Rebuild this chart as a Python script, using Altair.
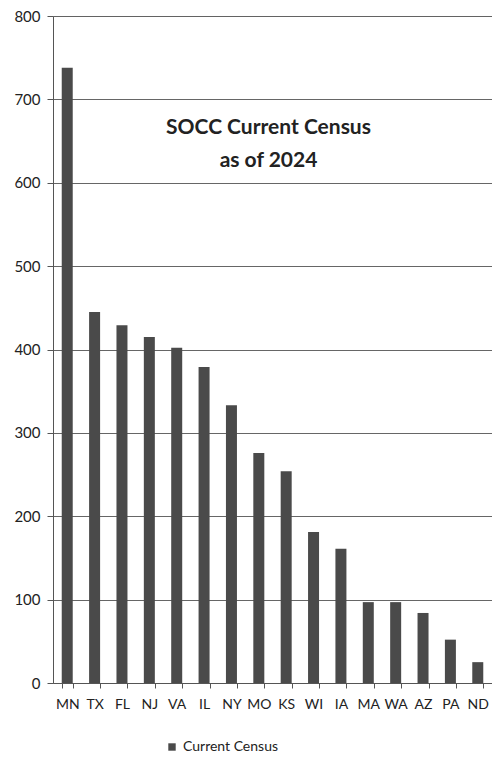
import altair as alt
import pandas as pd

states = ["MN", "TX", "FL", "NJ", "VA", "IL", "NY", "MO", "KS", "WI", "IA", "MA", "WA", "AZ", "PA", "ND"]
census = [738, 445, 429, 415, 402, 379, 333, 276, 254, 181, 161, 97, 97, 84, 52, 25]
series = "Current Census"
title_lines = ["SOCC Current Census", "as of 2024"]

df = pd.DataFrame({"state": states, "census": census, "series": [series] * len(states)})

FONT = "Lato"
TXT = "#222222"

bars = alt.Chart(df).mark_bar(size=11, color="#3d3d3d").encode(
    x=alt.X("state:N", sort=states, title=None,
            scale=alt.Scale(paddingInner=0.6, paddingOuter=0.32),
            axis=alt.Axis(labelAngle=0, labelFontSize=14, labelFont=FONT, labelColor=TXT,
                          labelPadding=9, tickBand="extent", tickSize=5, tickColor="#555555",
                          domainColor="#555555", grid=False)),
    y=alt.Y("census:Q", title=None,
            scale=alt.Scale(domain=[0, 800], nice=False),
            axis=alt.Axis(values=[0, 100, 200, 300, 400, 500, 600, 700, 800],
                          labelFontSize=15, labelFont=FONT, labelColor=TXT, labelPadding=7,
                          tickSize=6, tickColor="#555555", domainColor="#555555",
                          gridColor="#555555", gridWidth=1, gridOpacity=0.9)),
    color=alt.Color("series:N", scale=alt.Scale(range=["#4a4a4a"]),
                    legend=alt.Legend(title=None, orient="none", legendX=112, legendY=724,
                                      symbolType="square", symbolSize=55,
                                      labelFont=FONT, labelFontSize=14, labelColor=TXT)),
)

chart = bars.properties(
    width=439, height=667,
    title=alt.TitleParams(text=title_lines, fontSize=21, font=FONT, fontWeight="bold",
                          color=TXT, anchor="middle", dy=166, lineHeight=33, dx=-4),
).configure_view(stroke="#777777").configure(
    background="white",
    padding={"left": 53, "top": 16, "right": 0, "bottom": 81},
    autosize=alt.AutoSizeParams(type="none"),
)

chart.save("out.html", embed_options={"renderer": "svg", "actions": False})
